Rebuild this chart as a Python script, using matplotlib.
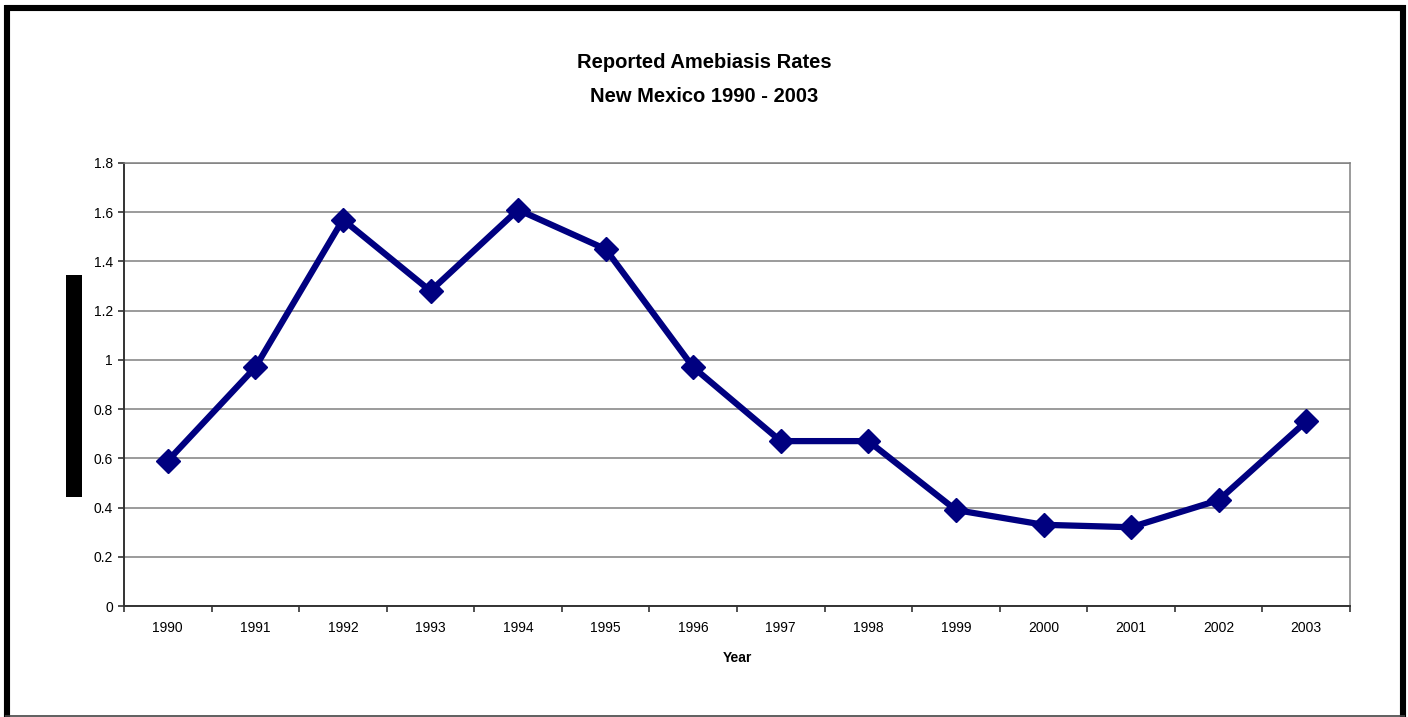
import numpy as np
import matplotlib.pyplot as plt
from matplotlib.patches import Rectangle
from matplotlib.lines import Line2D

plt.rcParams['font.family'] = ['Liberation Sans', 'DejaVu Sans']

years = ['1990', '1991', '1992', '1993', '1994', '1995', '1996',
         '1997', '1998', '1999', '2000', '2001', '2002', '2003']
rates = [0.59, 0.97, 1.57, 1.28, 1.61, 1.45, 0.97,
         0.67, 0.67, 0.39, 0.33, 0.32, 0.43, 0.75]
y_ticks = [0, 0.2, 0.4, 0.6, 0.8, 1, 1.2, 1.4, 1.6, 1.8]
y_tick_labels = ['0', '0.2', '0.4', '0.6', '0.8', '1', '1.2', '1.4', '1.6', '1.8']

W, H = 1408, 717
fig = plt.figure(figsize=(W / 100, H / 100), dpi=100)
ax = fig.add_axes([124 / W, 1 - 606 / H, (1350 - 124) / W, (606 - 163) / H])

x = np.arange(len(years))
ax.plot(x, rates, color='#000080', lw=4.5, marker='D', markersize=12.5,
        markeredgecolor='#000080', zorder=3, clip_on=False)

ax.set_xlim(-0.5, len(years) - 0.5)
ax.set_ylim(0, 1.8)
ax.set_yticks(y_ticks)
ax.set_yticklabels(y_tick_labels, fontsize=10)
ax.yaxis.grid(True, color='#808080', lw=1.1)
ax.set_axisbelow(True)

# category labels centred, tick marks between categories
ax.set_xticks(np.arange(-0.5, len(years)), labels=[''] * (len(years) + 1))
ax.set_xticks(x, labels=years, minor=True)
ax.tick_params(axis='x', which='minor', length=0, labelsize=10, pad=11)
ax.tick_params(axis='x', which='major', length=4, width=1.2, color='#333333', direction='out')
ax.tick_params(axis='y', length=4, width=1.2, color='#333333', direction='out', pad=4)

for side in ['left', 'bottom']:
    ax.spines[side].set_color('#333333')
    ax.spines[side].set_linewidth(1.4)
for side in ['top', 'right']:
    ax.spines[side].set_color('#808080')
    ax.spines[side].set_linewidth(1.1)

ax.set_xlabel('Year', fontsize=10, fontweight='bold', labelpad=11)

fig.text(0.5, 1 - 63 / H, 'Reported Amebiasis Rates', ha='center', va='center',
         fontsize=14.5, fontweight='bold')
fig.text(0.5, 1 - 96 / H, 'New Mexico 1990 - 2003', ha='center', va='center',
         fontsize=14.5, fontweight='bold')

# redacted y-axis label bar
fig.add_artist(Rectangle((66 / W, 1 - 497 / H), 16 / W, 222 / H,
                         transform=fig.transFigure, color='black', lw=0))

# outer frame
frame = dict(transform=fig.transFigure, color='black', lw=4.4, solid_capstyle='butt')
fig.add_artist(Line2D([7.5 / W, 7.5 / W], [0, 1 - 5 / H], **frame))
fig.add_artist(Line2D([1402.5 / W, 1402.5 / W], [0, 1 - 5 / H], **frame))
fig.add_artist(Line2D([4.5 / W, 1405.5 / W], [1 - 8 / H, 1 - 8 / H], **frame))
fig.add_artist(Line2D([5 / W, 1405 / W], [1 - 716 / H, 1 - 716 / H], transform=fig.transFigure,
                      color='#444444', lw=1.2, solid_capstyle='butt'))

fig.savefig('out.png', dpi=100)
